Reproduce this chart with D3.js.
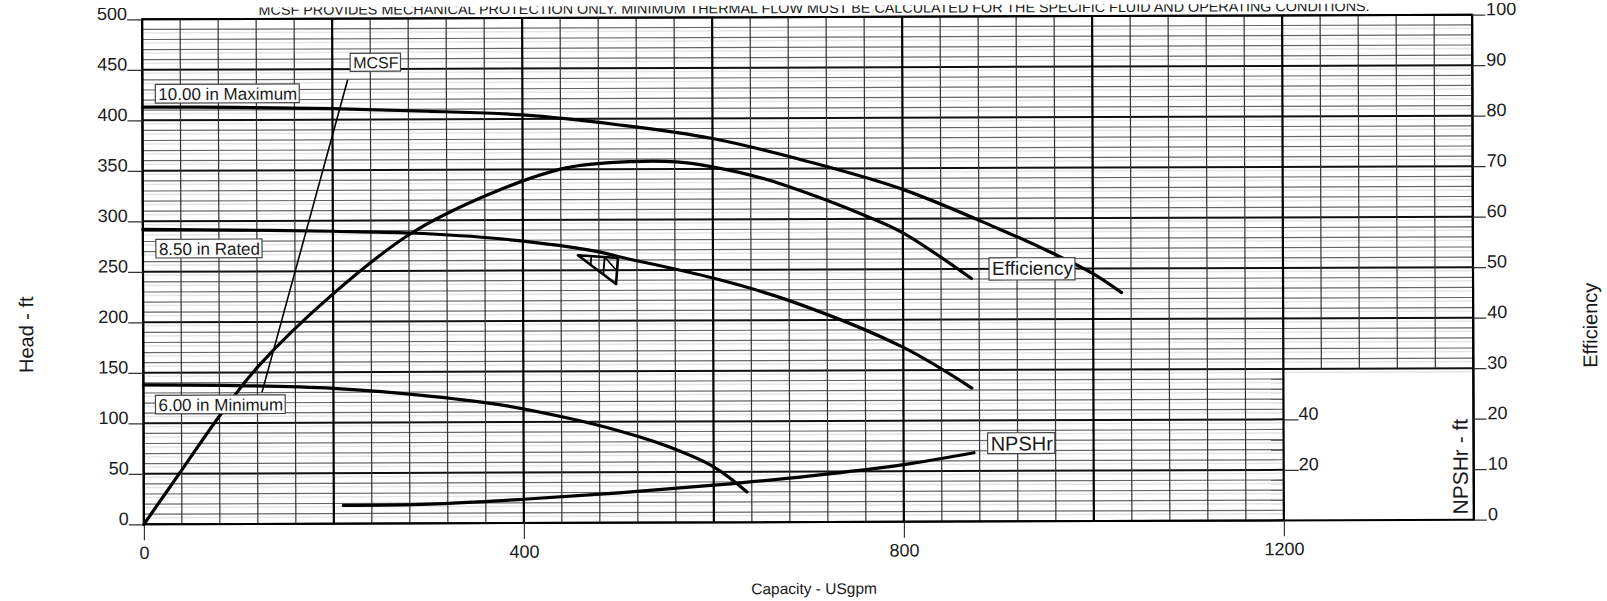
<!DOCTYPE html>
<html><head><meta charset="utf-8">
<script src="https://cdn.jsdelivr.net/npm/d3@7"></script>
<style>
body{margin:0;background:#fff}
svg{display:block}
text{font-family:"Liberation Sans",Arial,sans-serif;fill:#1a1a1a}
</style>
</head><body>
<svg id="c" width="1607" height="601"></svg>
<script>
// ---- data ----
const flowTicks = [0, 400, 800, 1200];
const headTicks = [0, 50, 100, 150, 200, 250, 300, 350, 400, 450, 500];
const effTicks = [0, 10, 20, 30, 40, 50, 60, 70, 80, 90, 100];
const npshTicks = [20, 40];

const maxFlow = [0, 100, 200, 300, 400, 500, 600, 700, 800, 900, 956, 1000, 1030];
const maxHead = [413, 412.5, 411, 408, 404, 394, 380, 357, 329, 290, 266, 245, 226];

const ratedFlow = [0, 100, 200, 281, 376, 476, 500, 601, 678, 799, 872];
const ratedHead = [292, 291, 289.5, 287.5, 281.5, 269, 263.5, 241.6, 220, 173, 132];

const minFlow = [0, 100, 200, 306, 376, 450, 500, 550, 600, 635];
const minHead = [138, 137, 134, 125.5, 117, 103, 91, 76, 55, 30];

const effFlow = [0, 40, 80, 120, 200, 283, 376, 446, 516, 562, 600, 656, 720, 762, 800, 872];
const effValue = [0, 10.7, 21.4, 31, 45.5, 57.5, 66, 70.3, 71.5, 71.4, 70.4, 67.9, 63.7, 60.5, 57.2, 48.1];

const npshFlow = [210, 300, 400, 500, 600, 700, 800, 874];
const npshValue = [7.2, 7.6, 9.4, 11.8, 14.7, 18.2, 22.6, 27.2];

const mcsfFlow = [125, 216];
const mcsfHead = [131, 439];

const ratedPointFlow = [500];
const ratedPointHead = [262];

const noteText = "MCSF PROVIDES MECHANICAL PROTECTION ONLY.  MINIMUM THERMAL FLOW MUST BE CALCULATED FOR THE SPECIFIC FLUID AND OPERATING CONDITIONS.";
const curveLabels = ["10.00 in Maximum", "8.50 in Rated", "6.00 in Minimum", "MCSF", "Efficiency", "NPSHr"];

// ---- layout ----
const labelLayout = [
  {flow: 16.8, head: 420, fs: 17},
  {flow: 16.8, head: 266.6, fs: 17},
  {flow: 15.8, head: 112.2, fs: 17},
  {flow: 222, head: 450.8, fs: 16},
  {flow: 893.7, head: 244, fs: 19},
  {flow: 891.6, head: 70, fs: 20}
];

const svg = d3.select('#c');
const x = d3.scaleLinear().domain([0, 1400]).range([143, 1473]);
const yH = d3.scaleLinear().domain([0, 500]).range([522, 17]);
const yE = d3.scaleLinear().domain([0, 100]).range([522, 17]);
const yN = d3.scaleLinear().domain([0, 200]).range([522, 17]);

const defs = svg.append('defs');
defs.append('clipPath').attr('id', 'crop').append('rect')
  .attr('x', -50).attr('y', 5.5).attr('width', 1750).attr('height', 700);

const root = svg.append('g').attr('transform', 'rotate(-0.2,808,270)');
const g = root.append('g').attr('clip-path', 'url(#crop)');

// ---- grid ----
const grid = g.append('g');
const gridV = d3.range(0, 1401, 40);
const gridH = d3.range(0, 501, 10);
grid.selectAll('line.sh').data(gridH.filter(h => h > 0 && h < 500)).join('line')
  .attr('x1', x(0)).attr('x2', h => h < 150 ? x(1200) : x(1400))
  .attr('y1', h => yH(h) + 3.5).attr('y2', h => yH(h) + 3.5)
  .attr('stroke', '#e6e6e6').attr('stroke-width', 1.5);
grid.selectAll('line.h').data(gridH).join('line')
  .attr('x1', x(0)).attr('x2', h => h < 150 ? x(1200) : x(1400))
  .attr('y1', h => yH(h)).attr('y2', h => yH(h))
  .attr('stroke', h => h % 50 === 0 ? '#111' : '#666')
  .attr('stroke-width', h => h % 50 === 0 ? 2 : 1.2);
grid.selectAll('line.v').data(gridV).join('line')
  .attr('x1', v => x(v)).attr('x2', v => x(v))
  .attr('y1', v => (v > 1200 && v < 1400) ? yH(150) : yH(0)).attr('y2', yH(500))
  .attr('stroke', v => v % 200 === 0 ? '#000' : '#333')
  .attr('stroke-width', v => v % 200 === 0 ? 2.2 : 1.2);
g.append('rect').attr('x', x(0)).attr('y', yH(500)).attr('width', x(1400) - x(0)).attr('height', yH(0) - yH(500))
  .attr('fill', 'none').attr('stroke', '#000').attr('stroke-width', 2);

// ---- axes ----
function styleAxis(sel, fs) {
  sel.attr('font-family', '"Liberation Sans", Arial, sans-serif').attr('font-size', fs);
  sel.select('.domain').remove();
  sel.selectAll('.tick line').attr('stroke', '#333').attr('stroke-width', 1.2);
  sel.selectAll('.tick text').attr('fill', '#1a1a1a');
}
const fmt = d3.format('d');
const aL = g.append('g').attr('transform', `translate(${x(0)},0)`)
  .call(d3.axisLeft(yH).tickValues(headTicks).tickFormat(fmt).tickSize(15).tickPadding(0));
styleAxis(aL, 18); aL.selectAll('.tick text').attr('dy', '0');

const aB = g.append('g').attr('transform', `translate(0,${yH(0)})`)
  .call(d3.axisBottom(x).tickValues(flowTicks).tickFormat(fmt).tickSize(16).tickPadding(6));
styleAxis(aB, 18);

const aR = g.append('g').attr('transform', `translate(${x(1400)},0)`)
  .call(d3.axisRight(yE).tickValues(effTicks).tickFormat(fmt).tickSize(13).tickPadding(1));
styleAxis(aR, 18); aR.selectAll('.tick text').attr('dy', '0');

const aN = g.append('g').attr('transform', `translate(${x(1200)},0)`)
  .call(d3.axisRight(yN).tickValues(npshTicks).tickFormat(fmt).tickSize(15).tickPadding(0));
styleAxis(aN, 18); aN.selectAll('.tick text').attr('dy', '0');

// titles
g.append('text').attr('transform', 'translate(33,332) rotate(-90)').attr('text-anchor', 'middle')
  .attr('font-size', 20).text('Head - ft');
g.append('text').attr('transform', 'translate(1597,328) rotate(-90)').attr('text-anchor', 'middle')
  .attr('font-size', 20).text('Efficiency');
g.append('text').attr('transform', 'translate(1467,469) rotate(-90)').attr('text-anchor', 'middle')
  .attr('font-size', 21).text('NPSHr - ft');
g.append('text').attr('x', 813).attr('y', 594).attr('text-anchor', 'middle')
  .attr('font-size', 15.5).text('Capacity - USgpm');

// note at top (cropped like the scan)
g.append('text').attr('x', 815).attr('y', 13).attr('text-anchor', 'middle')
  .attr('font-size', 14).attr('textLength', 1111).attr('lengthAdjust', 'spacingAndGlyphs')
  .text(noteText);

// ---- curves ----
const zip = (a, b) => a.map((v, i) => [v, b[i]]);
const curves = g.append('g').attr('fill', 'none').attr('stroke', '#000').attr('stroke-linecap', 'round');
const cv = d3.curveCatmullRom.alpha(0.5);
const lineH = d3.line().x(d => x(d[0])).y(d => yH(d[1])).curve(cv);
const lineE = d3.line().x(d => x(d[0])).y(d => yE(d[1])).curve(cv);
const lineN = d3.line().x(d => x(d[0])).y(d => yN(d[1])).curve(cv);
curves.append('path').attr('d', lineH(zip(maxFlow, maxHead))).attr('stroke-width', 3.2);
curves.append('path').attr('d', lineH(zip(ratedFlow, ratedHead))).attr('stroke-width', 3.2);
curves.append('path').attr('d', lineH(zip(minFlow, minHead))).attr('stroke-width', 3.2);
curves.append('path').attr('d', lineE(zip(effFlow, effValue))).attr('stroke-width', 3.2);
curves.append('path').attr('d', lineN(zip(npshFlow, npshValue))).attr('stroke-width', 3.2);
curves.append('path').attr('d', d3.line().x(d => x(d[0])).y(d => yH(d[1]))(zip(mcsfFlow, mcsfHead)))
  .attr('stroke-width', 1.6);

// rated point marker (hatched triangle)
const tri = g.append('g').attr('fill', 'none').attr('stroke', '#000').attr('stroke-linejoin', 'round');
ratedPointFlow.forEach((f, i) => {
  const px = x(f), py = yH(ratedPointHead[i]);
  const A = [px - 40, py - 3], B = [px, py], C = [px - 2, py + 26];
  tri.append('path').attr('d', `M${A}L${B}L${C}Z`).attr('stroke-width', 2.6);
  [1/3, 2/3].forEach(t => {
    const P = [A[0] + (B[0] - A[0]) * t, A[1] + (B[1] - A[1]) * t];
    const Q = [A[0] + (C[0] - A[0]) * t, A[1] + (C[1] - A[1]) * t];
    tri.append('line').attr('x1', P[0]).attr('y1', P[1]).attr('x2', Q[0]).attr('y2', Q[1]).attr('stroke-width', 1.8);
  });
  const M = [(B[0] + C[0]) / 2, (B[1] + C[1]) / 2];
  tri.append('line').attr('x1', A[0] + (B[0]-A[0])*2/3).attr('y1', A[1] + (B[1]-A[1])*2/3)
    .attr('x2', M[0]).attr('y2', M[1]).attr('stroke-width', 1.6);
});

// ---- labels ----
const lab = g.append('g');
curveLabels.forEach((t, i) => {
  const L = labelLayout[i];
  const lx = x(L.flow), ly = yH(L.head);
  const box = lab.append('rect');
  const tx = lab.append('text').attr('x', lx).attr('y', ly).attr('font-size', L.fs).text(t);
  const w = tx.node().getComputedTextLength();
  const hasDesc = /[gpqy]/.test(t);
  box.attr('x', lx - 3).attr('y', ly - 0.716 * L.fs - 3.5).attr('width', w + 5)
    .attr('height', 0.716 * L.fs + 3.5 + (hasDesc ? 0.22 * L.fs + 1 : 3))
    .attr('fill', '#fff').attr('stroke', '#444').attr('stroke-width', 1.2);
});
</script>
</body></html>
